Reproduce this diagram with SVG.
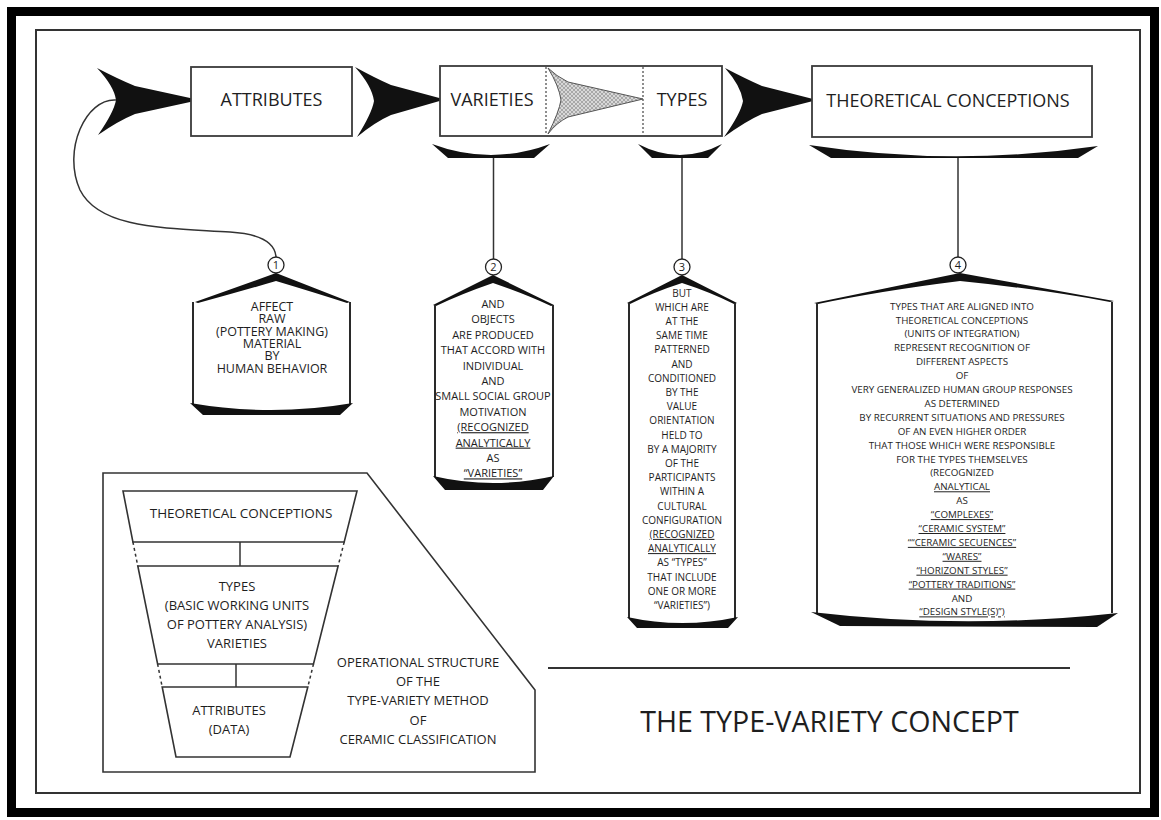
<svg xmlns="http://www.w3.org/2000/svg" width="1161" height="820" viewBox="0 0 1161 820">
<defs>
<pattern id="hatch" width="4" height="4" patternUnits="userSpaceOnUse">
<rect width="4" height="4" fill="#d8d8d8"/>
<path d="M0,0 L4,4 M4,0 L0,4" stroke="#888" stroke-width="0.6"/>
</pattern>
<style>
text{font-family:"Open Sans","Liberation Sans",sans-serif;fill:#1e1e1e;text-anchor:middle}
.lbl{font-size:18px}
.t1{font-size:12.5px}
.t2{font-size:11px}
.t3{font-size:10px}
.t4{font-size:9.8px}
.pn{font-size:13px}
.box{fill:#fff;stroke:#3a3a3a;stroke-width:1.8}
.side{fill:none;stroke:#2a2a2a;stroke-width:2}
.blk{fill:#111;stroke:none}
.ln{fill:none;stroke:#333;stroke-width:1.5}
.circ{fill:#fff;stroke:#222;stroke-width:1.3}
.num{font-size:11px}
.u{text-decoration:underline}
</style>
</defs>
<rect width="1161" height="820" fill="#fff"/>
<rect x="11.5" y="11.5" width="1143" height="801" fill="none" stroke="#000" stroke-width="9"/>
<rect x="36" y="30" width="1104" height="763" fill="none" stroke="#333" stroke-width="2"/>

<g id="connectors">
<path class="blk" d="M97,68 Q118,79 135,86 L197,99.5 L197,100.5 L135,114 Q118,121 98,135 Q114,112 116,100 Q114,86 97,68 Z"/>
<path class="blk" d="M355,67 Q375,78 391,85 L443,99 L443,100 L391,115 Q375,122 357,137 Q372,113 374,101 Q372,86 355,67 Z"/>
<path class="blk" d="M725,68 Q746,79 762,86 L815,99.5 L815,100.5 L762,114 Q746,121 724,137 Q741,113 743,101 Q741,86 725,68 Z"/>
<path class="ln" d="M116,100 C86,98 62,150 80,190 C100,230 170,228 230,232 C262,234 275,243 276,257"/>
<line class="ln" x1="493.5" y1="157" x2="493.5" y2="259"/>
<line class="ln" x1="682" y1="157" x2="682" y2="259"/>
<line class="ln" x1="958" y1="157" x2="958" y2="257"/>
</g>

<g id="attributes">
<rect class="box" x="191" y="67" width="161" height="69"/>
<text class="lbl" x="271.5" y="106">ATTRIBUTES</text>
</g>

<g id="varieties-types">
<rect class="box" x="440" y="66" width="282" height="70"/>
<line x1="546" y1="67" x2="546" y2="135" stroke="#444" stroke-width="1.2" stroke-dasharray="2,2"/>
<line x1="643" y1="67" x2="643" y2="135" stroke="#444" stroke-width="1.2" stroke-dasharray="2,2"/>
<path d="M548,68 Q556,76 568,82 L643,99 L568,117 Q556,123 548,134 Q559,112 561,100 Q559,86 548,68 Z" fill="url(#hatch)" stroke="#555" stroke-width="1"/>
<text class="lbl" x="492" y="106">VARIETIES</text>
<text class="lbl" x="682" y="106">TYPES</text>
<path class="blk" d="M432,144 Q491,166 550,144 L534,158 L448,158 Z"/>
<path class="blk" d="M638,144 Q680,166 722,144 L708,158 L652,158 Z"/>
</g>

<g id="theoretical-conceptions">
<rect class="box" x="812" y="66" width="280" height="71"/>
<text class="lbl" x="948" y="107">THEORETICAL CONCEPTIONS</text>
<path class="blk" d="M809,145 Q953,167 1098,146 L1078,158 L831,158 Z"/>
</g>

<g id="step1">
<circle class="circ" cx="276" cy="265" r="8"/>
<text class="num" x="276" y="269">1</text>
<path class="blk" d="M195,302 L276,273 L350,302 L347,303 Q316,293 276,281 Q235,293 198,303 Z"/>
<line class="side" x1="193" y1="302" x2="193" y2="404"/>
<line class="side" x1="350" y1="302" x2="350" y2="404"/>
<path class="blk" d="M190,403 Q271,417 353,403 L340,415 L203,415 Z"/>
<text class="t1" x="272" y="311">AFFECT</text>
<text class="t1" x="272" y="323.3">RAW</text>
<text class="t1" x="272" y="335.6">(POTTERY MAKING)</text>
<text class="t1" x="272" y="347.9">MATERIAL</text>
<text class="t1" x="272" y="360.2">BY</text>
<text class="t1" x="272" y="372.5">HUMAN BEHAVIOR</text>
</g>

<g id="step2">
<circle class="circ" cx="493.5" cy="267" r="8"/>
<text class="num" x="493.5" y="271">2</text>
<path class="blk" d="M433,305 L493,275 L554,305 L551,306 Q525,294 493,283 Q461,294 436,306 Z"/>
<line class="side" x1="435" y1="305" x2="435" y2="477"/>
<line class="side" x1="553" y1="305" x2="553" y2="477"/>
<path class="blk" d="M433,476 Q493,490 554,476 L543,490 L445,490 Z"/>
<text class="t2" x="493" y="308">AND</text>
<text class="t2" x="493" y="323.4">OBJECTS</text>
<text class="t2" x="493" y="338.8">ARE PRODUCED</text>
<text class="t2" x="493" y="354.2">THAT ACCORD WITH</text>
<text class="t2" x="493" y="369.6">INDIVIDUAL</text>
<text class="t2" x="493" y="385">AND</text>
<text class="t2" x="493" y="400.4">SMALL SOCIAL GROUP</text>
<text class="t2" x="493" y="415.8">MOTIVATION</text>
<text class="t2 u" x="493" y="431.2">(RECOGNIZED</text>
<text class="t2 u" x="493" y="446.6">ANALYTICALLY</text>
<text class="t2" x="493" y="462">AS</text>
<text class="t2 u" x="493" y="477.4">“VARIETIES”</text>
</g>

<g id="step3">
<circle class="circ" cx="682" cy="267" r="8"/>
<text class="num" x="682" y="271">3</text>
<path class="blk" d="M627,303 L682,275 L737,303 L734,304 Q710,292 682,283 Q654,292 630,304 Z"/>
<line class="side" x1="629" y1="303" x2="629" y2="618"/>
<line class="side" x1="735" y1="303" x2="735" y2="618"/>
<path class="blk" d="M627,617 Q682,629 738,617 L728,628 L637,628 Z"/>
<text class="t3" x="682" y="296.5">BUT</text>
<text class="t3" x="682" y="310.7">WHICH ARE</text>
<text class="t3" x="682" y="324.9">AT THE</text>
<text class="t3" x="682" y="339.1">SAME TIME</text>
<text class="t3" x="682" y="353.3">PATTERNED</text>
<text class="t3" x="682" y="367.5">AND</text>
<text class="t3" x="682" y="381.7">CONDITIONED</text>
<text class="t3" x="682" y="395.9">BY THE</text>
<text class="t3" x="682" y="410.1">VALUE</text>
<text class="t3" x="682" y="424.3">ORIENTATION</text>
<text class="t3" x="682" y="438.5">HELD TO</text>
<text class="t3" x="682" y="452.7">BY A MAJORITY</text>
<text class="t3" x="682" y="466.9">OF THE</text>
<text class="t3" x="682" y="481.1">PARTICIPANTS</text>
<text class="t3" x="682" y="495.3">WITHIN A</text>
<text class="t3" x="682" y="509.5">CULTURAL</text>
<text class="t3" x="682" y="523.7">CONFIGURATION</text>
<text class="t3 u" x="682" y="537.9">(RECOGNIZED</text>
<text class="t3 u" x="682" y="552.1">ANALYTICALLY</text>
<text class="t3" x="682" y="566.3">AS “TYPES”</text>
<text class="t3" x="682" y="580.5">THAT INCLUDE</text>
<text class="t3" x="682" y="594.7">ONE OR MORE</text>
<text class="t3" x="682" y="608.9">“VARIETIES”)</text>
</g>

<g id="step4">
<circle class="circ" cx="958" cy="265" r="8"/>
<text class="num" x="958" y="269">4</text>
<path class="blk" d="M814,303 L960,273 L1114,301 L1110,302 Q1040,289 960,281 Q880,291 818,304 Z"/>
<line class="side" x1="817" y1="303" x2="817" y2="613"/>
<line class="side" x1="1112" y1="302" x2="1112" y2="613"/>
<path class="blk" d="M811,612 Q964,630 1118,613 L1097,627 L840,626 Z"/>
<text class="t4" x="962" y="309.6">TYPES THAT ARE ALIGNED INTO</text>
<text class="t4" x="962" y="323.5">THEORETICAL CONCEPTIONS</text>
<text class="t4" x="962" y="337.4">(UNITS OF INTEGRATION)</text>
<text class="t4" x="962" y="351.3">REPRESENT RECOGNITION OF</text>
<text class="t4" x="962" y="365.2">DIFFERENT ASPECTS</text>
<text class="t4" x="962" y="379.1">OF</text>
<text class="t4" x="962" y="393">VERY GENERALIZED HUMAN GROUP RESPONSES</text>
<text class="t4" x="962" y="406.9">AS DETERMINED</text>
<text class="t4" x="962" y="420.8">BY RECURRENT SITUATIONS AND PRESSURES</text>
<text class="t4" x="962" y="434.7">OF AN EVEN HIGHER ORDER</text>
<text class="t4" x="962" y="448.6">THAT THOSE WHICH WERE RESPONSIBLE</text>
<text class="t4" x="962" y="462.5">FOR THE TYPES THEMSELVES</text>
<text class="t4" x="962" y="476.4">(RECOGNIZED</text>
<text class="t4 u" x="962" y="490.3">ANALYTICAL</text>
<text class="t4" x="962" y="504.2">AS</text>
<text class="t4 u" x="962" y="518.1">“COMPLEXES”</text>
<text class="t4 u" x="962" y="532">“CERAMIC SYSTEM”</text>
<text class="t4 u" x="962" y="545.9">““CERAMIC SECUENCES”</text>
<text class="t4 u" x="962" y="559.8">“WARES”</text>
<text class="t4 u" x="962" y="573.7">“HORIZONT STYLES”</text>
<text class="t4 u" x="962" y="587.6">“POTTERY TRADITIONS”</text>
<text class="t4" x="962" y="601.5">AND</text>
<text class="t4 u" x="962" y="615.4">“DESIGN STYLE(S)”)</text>
</g>

<g id="operational-structure">
<path d="M103,473 L367,473 L535,690 L535,772 L103,772 Z" fill="none" stroke="#333" stroke-width="1.6"/>
<path d="M123,491 L357,491 L344.2,542 L132.9,542 Z" fill="#fff" stroke="#333" stroke-width="1.6"/>
<path d="M137.8,566 L338.1,566 L313.5,664 L157.6,664 Z" fill="#fff" stroke="#333" stroke-width="1.6"/>
<path d="M162.2,687 L307.8,687 L290,757 L176,757 Z" fill="#fff" stroke="#333" stroke-width="1.6"/>
<line class="ln" x1="132.9" y1="542" x2="137.8" y2="566" stroke-dasharray="3,3"/>
<line class="ln" x1="344.2" y1="542" x2="338.1" y2="566" stroke-dasharray="3,3"/>
<line class="ln" x1="157.6" y1="664" x2="162.2" y2="687" stroke-dasharray="3,3"/>
<line class="ln" x1="313.5" y1="664" x2="307.8" y2="687" stroke-dasharray="3,3"/>
<line class="ln" x1="240" y1="542" x2="240" y2="566"/>
<line class="ln" x1="236" y1="664" x2="236" y2="687"/>
<text class="pn" x="241" y="518" style="font-size:13.5px">THEORETICAL CONCEPTIONS</text>
<text class="pn" x="237" y="590.5">TYPES</text>
<text class="pn" x="237" y="609.5">(BASIC WORKING UNITS</text>
<text class="pn" x="237" y="628.5">OF POTTERY ANALYSIS)</text>
<text class="pn" x="237" y="647.5">VARIETIES</text>
<text class="pn" x="229" y="714.5">ATTRIBUTES</text>
<text class="pn" x="229" y="733.5">(DATA)</text>
<text class="pn" x="418" y="667">OPERATIONAL STRUCTURE</text>
<text class="pn" x="418" y="686">OF THE</text>
<text class="pn" x="418" y="705">TYPE-VARIETY METHOD</text>
<text class="pn" x="418" y="725">OF</text>
<text class="pn" x="418" y="744">CERAMIC CLASSIFICATION</text>
</g>

<g id="title">
<line x1="548" y1="668" x2="1070" y2="668" stroke="#333" stroke-width="2"/>
<text x="829.5" y="732" style="font-size:28.6px">THE TYPE-VARIETY CONCEPT</text>
</g>
</svg>
